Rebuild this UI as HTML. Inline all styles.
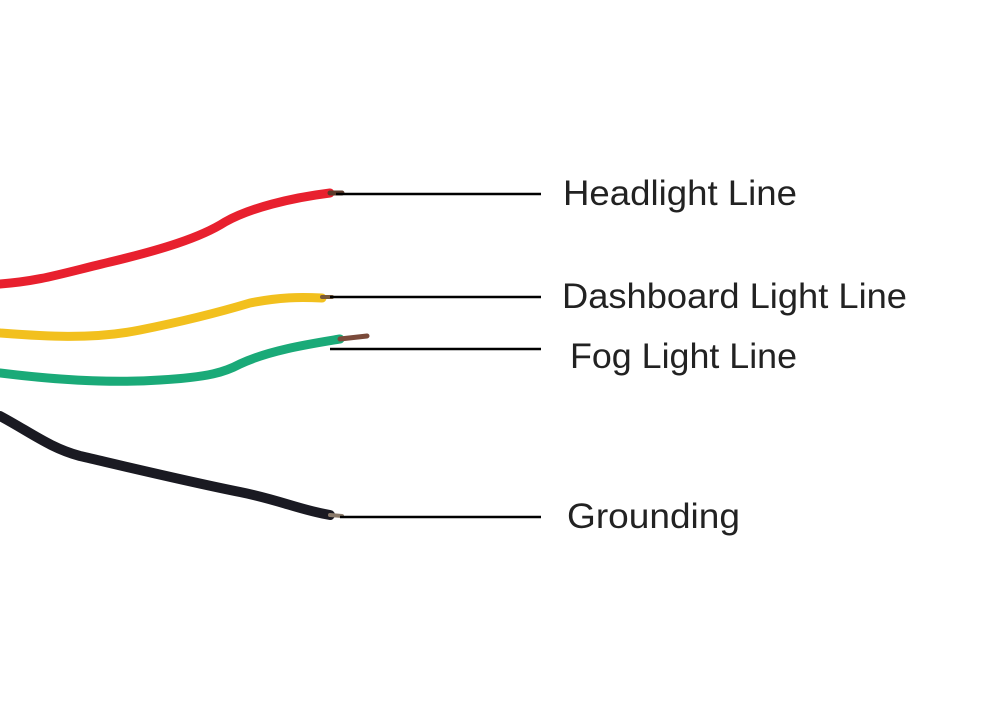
<!DOCTYPE html>
<html><head><meta charset="utf-8"><style>html,body{margin:0;padding:0;background:#fff}svg{display:block}</style></head>
<body>
<svg width="1000" height="708" viewBox="0 0 1000 708" xmlns="http://www.w3.org/2000/svg">
<rect width="1000" height="708" fill="#fff"/>
<g fill="none" stroke-linecap="round">
<path d="M0,284 C40,281 60,274 110,262 C160,250 200,238 225,222 C250,208 290,198 330,193" stroke="#e8202e" stroke-width="9"/>
<path d="M0,333 C40,336 90,340 140,330 C190,320 220,312 250,303 C280,297 300,297 322,298" stroke="#f2c01e" stroke-width="9"/>
<path d="M0,373 C40,378 100,384 160,380 C210,377 225,372 240,364 C270,350 310,344 340,339" stroke="#1aaa78" stroke-width="9"/>
<path d="M0,416 C30,432 50,448 80,456 C140,470 190,482 240,492 C280,500 300,510 330,515" stroke="#1a1a22" stroke-width="10"/>
</g>
<g stroke-linecap="round">
<line x1="330" y1="193" x2="342" y2="193" stroke="#5a3a2a" stroke-width="5"/>
<line x1="322" y1="297" x2="332" y2="297" stroke="#7a5a3a" stroke-width="4"/>
<line x1="340" y1="339" x2="367" y2="336" stroke="#7a4a3a" stroke-width="5"/>
<line x1="330" y1="515" x2="342" y2="516" stroke="#8a7a6a" stroke-width="4"/>
</g>
<g stroke="#000" stroke-width="2.5">
<line x1="336" y1="194" x2="541" y2="194"/>
<line x1="330" y1="297" x2="541" y2="297"/>
<line x1="330" y1="349" x2="541" y2="349"/>
<line x1="340" y1="517" x2="541" y2="517"/>
</g>
<g font-family="Liberation Sans, DejaVu Sans, sans-serif" font-size="35" fill="#222">
<text x="563" y="205" textLength="234" lengthAdjust="spacingAndGlyphs">Headlight Line</text>
<text x="562" y="308" textLength="345" lengthAdjust="spacingAndGlyphs">Dashboard Light Line</text>
<text x="570" y="368" textLength="227" lengthAdjust="spacingAndGlyphs">Fog Light Line</text>
<text x="567" y="528" textLength="173" lengthAdjust="spacingAndGlyphs">Grounding</text>
</g>
</svg>
</body></html>
